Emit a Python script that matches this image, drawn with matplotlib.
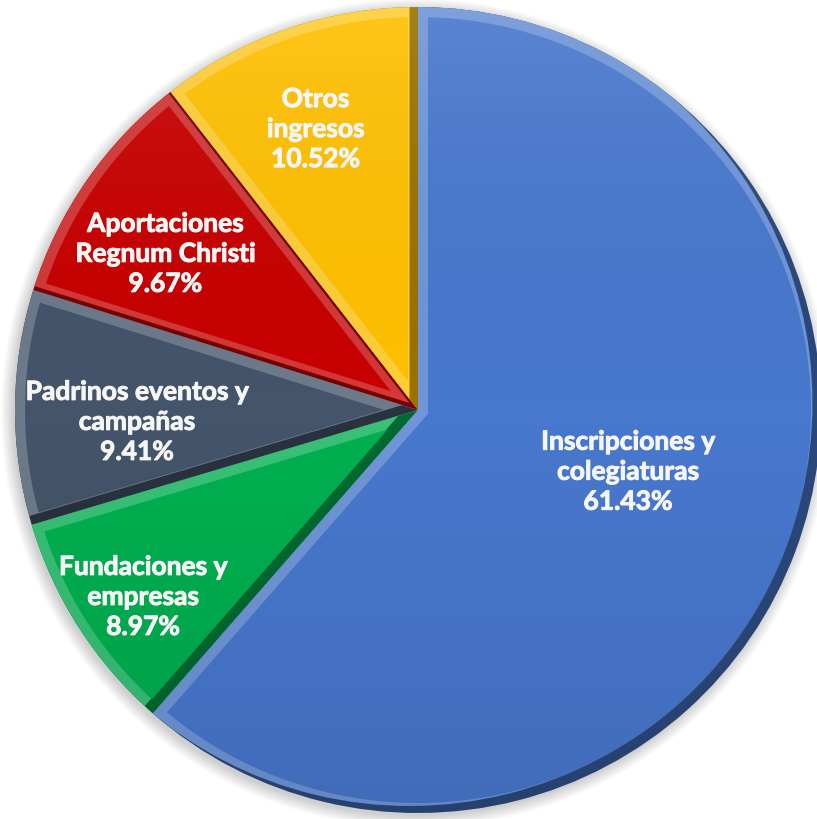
import numpy as np
import matplotlib.pyplot as plt
import matplotlib.patheffects as pe
from matplotlib.patches import Wedge, Polygon, Circle
from matplotlib.colors import to_rgb, LinearSegmentedColormap

# datos del gráfico
categorias = ['Inscripciones y\ncolegiaturas', 'Fundaciones y\nempresas',
              'Padrinos eventos y\ncampañas', 'Aportaciones\nRegnum Christi',
              'Otros\ningresos']
porcentajes = [61.43, 8.97, 9.41, 9.67, 10.52]
colores = ['#4878CE', '#00B050', '#44546A', '#C80000', '#FFC000']

# posición de etiquetas: fracción del radio y ajuste de ángulo (grados)
label_r = [0.543, 0.825, 0.698, 0.737, 0.742]
label_dang = [4.2, 1.5, 2.8, 3.0, 1.1]


def tono(c, f):
    rgb = np.array(to_rgb(c))
    if f > 0:
        return tuple(rgb + (1 - rgb) * f)
    return tuple(rgb * (1 + f))


fig = plt.figure(figsize=(8.17, 8.2), dpi=100)
ax = fig.add_axes([0, 0, 1, 1])

wedges, _ = ax.pie(porcentajes, colors=[tono(c, -0.4) for c in colores],
                   startangle=90, counterclock=False, radius=1.0)

# sombra suave alrededor del pastel
for i in range(8):
    ax.add_patch(Circle((-0.006, -0.008), 1.0 + 0.004 * i, color='black',
                        alpha=0.025, zorder=0, lw=0))

# efecto bisel (luz desde arriba a la izquierda)
b = 10 / 403
t = np.array([-0.85, 0.7]) * b
for w, c in zip(wedges, colores):
    cx, cy = w.center
    r = w.r
    th1, th2 = w.theta1, w.theta2
    w.set_zorder(1)
    luz = Wedge((cx + t[0], cy + t[1]), r, th1, th2, facecolor=tono(c, 0.22),
                lw=0, zorder=2)
    ax.add_patch(luz)
    luz.set_clip_path(w)

    alfa = th2 - th1
    mid = np.radians((th1 + th2) / 2)
    d = b / np.sin(np.radians(alfa / 2))
    apex = (cx + d * np.cos(mid), cy + d * np.sin(mid))
    R = r - b
    dl = np.degrees(np.arcsin(b / R))
    ang = np.radians(np.linspace(th1 + dl, th2 - dl, 200))
    pts = [apex] + list(zip(cx + R * np.cos(ang), cy + R * np.sin(ang)))
    ax.add_patch(Polygon(pts, closed=True, facecolor=c, lw=0, zorder=3))

# degradado vertical suave (más claro arriba)
grad = np.linspace(1, 0, 256).reshape(-1, 1)
cmap = LinearSegmentedColormap.from_list(
    'luz', [(0, 0, 0, 0.10), (0, 0, 0, 0.0), (1, 1, 1, 0.10)])
img = ax.imshow(grad, cmap=cmap, extent=(-1, 1, -1, 1), aspect='auto',
                zorder=4, interpolation='bilinear')
clip = Circle((0, 0), 1.0, transform=ax.transData)
img.set_clip_path(clip)

# etiquetas
for w, txt, p, fr, da in zip(wedges, categorias, porcentajes, label_r, label_dang):
    a = np.radians((w.theta1 + w.theta2) / 2 + da)
    ax.text(fr * np.cos(a), fr * np.sin(a), f'{txt}\n{p:.2f}%',
            ha='center', va='center', color='#F6F6F6', fontsize=19,
            fontweight='bold', family='Lato', linespacing=1.3, zorder=5,
            path_effects=[pe.withStroke(linewidth=0.7, foreground='#F6F6F6')])

ax.set_aspect('auto')
ax.set_xlim(-418 / 403, (817 - 418) / 403)
ax.set_ylim(-(820 - 411) / 403, 411 / 403)
ax.axis('off')

fig.savefig('out.png', dpi=100, facecolor='white')
